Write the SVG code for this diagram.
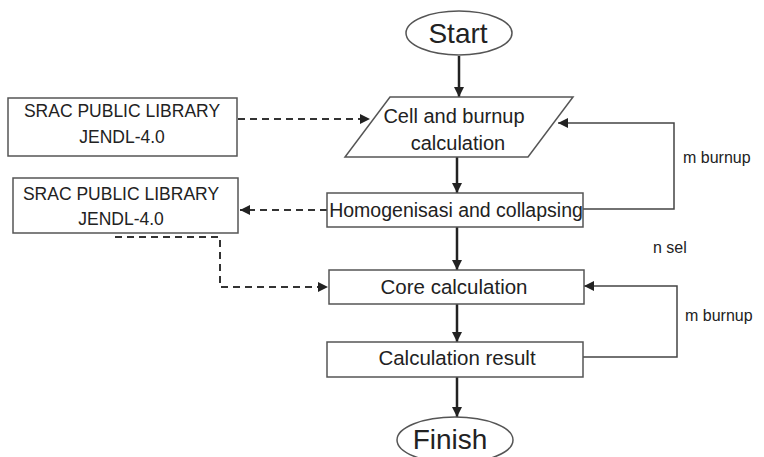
<svg xmlns="http://www.w3.org/2000/svg" width="764" height="457" viewBox="0 0 764 457">
<style>
  .shape{fill:#fff;stroke:#555;stroke-width:1.5}
  .t{font-family:"Liberation Sans",Arial,sans-serif;fill:#222;text-anchor:middle}
  .lbl{font-family:"Liberation Sans",Arial,sans-serif;fill:#222;font-size:16px}
  .flow{fill:none;stroke:#222;stroke-width:2.5}
  .loop{fill:none;stroke:#444;stroke-width:1.5}
  .dash{fill:none;stroke:#333;stroke-width:2;stroke-dasharray:7,5}
</style>
<defs>
  <marker id="ah" viewBox="0 0 10 10" refX="10" refY="5" markerWidth="5" markerHeight="5" orient="auto" markerUnits="userSpaceOnUse">
    <path d="M0,0 L10,5 L0,10 z" fill="#222"/>
  </marker>
  <marker id="ah2" viewBox="0 0 10 10" refX="10" refY="5" markerWidth="12" markerHeight="10" orient="auto" markerUnits="userSpaceOnUse">
    <path d="M0,0 L10,5 L0,10 z" fill="#222"/>
  </marker>
</defs>
<rect width="764" height="457" fill="#fff"/>
<g id="connectors">
  <line class="flow" x1="459" y1="56" x2="459" y2="97" marker-end="url(#ah2)"/>
  <line class="flow" x1="457" y1="157" x2="457" y2="193" marker-end="url(#ah2)"/>
  <line class="flow" x1="457" y1="227" x2="457" y2="270" marker-end="url(#ah2)"/>
  <line class="flow" x1="457" y1="304" x2="457" y2="342" marker-end="url(#ah2)"/>
  <line class="flow" x1="457" y1="377" x2="457" y2="417" marker-end="url(#ah2)"/>
  <path class="loop" d="M583 209 H674 V123 H558" marker-end="url(#ah2)"/>
  <path class="loop" d="M583 357 H677 V286 H584" marker-end="url(#ah2)"/>
  <path class="dash" d="M238 119 H370" marker-end="url(#ah2)"/>
  <path class="dash" d="M327 210 H240" marker-end="url(#ah2)"/>
  <path class="dash" d="M115 237 H220 V287 H328" marker-end="url(#ah2)"/>
</g>
<g id="start">
  <ellipse class="shape" cx="459" cy="33" rx="53" ry="22"/>
  <text class="t" x="458" y="43" font-size="28">Start</text>
</g>
<g id="lib1">
  <rect class="shape" x="8" y="98" width="229" height="58"/>
  <text class="t" x="122" y="117" font-size="17.5">SRAC PUBLIC LIBRARY</text>
  <text class="t" x="122" y="143" font-size="17.5">JENDL-4.0</text>
</g>
<g id="cell">
  <polygon class="shape" points="390,97 573,97 528,157 345,157"/>
  <text class="t" x="454" y="123" font-size="20">Cell and burnup</text>
  <text class="t" x="458" y="150" font-size="20">calculation</text>
</g>
<g id="lib2">
  <rect class="shape" x="13" y="178" width="225" height="55"/>
  <text class="t" x="121" y="200" font-size="17.5">SRAC PUBLIC LIBRARY</text>
  <text class="t" x="121" y="225" font-size="17.5">JENDL-4.0</text>
</g>
<g id="homog">
  <rect class="shape" x="327" y="193" width="256" height="34"/>
  <text class="t" x="456" y="217" font-size="19.5">Homogenisasi and collapsing</text>
</g>
<g id="core">
  <rect class="shape" x="329" y="270" width="255" height="34"/>
  <text class="t" x="454" y="294" font-size="20.5">Core calculation</text>
</g>
<g id="result">
  <rect class="shape" x="327" y="342" width="256" height="35"/>
  <text class="t" x="457" y="365" font-size="20.5">Calculation result</text>
</g>
<g id="finish">
  <ellipse class="shape" cx="455" cy="440" rx="58" ry="23"/>
  <text class="t" x="450" y="449" font-size="28">Finish</text>
</g>
<g id="labels">
  <text class="lbl" x="683" y="163">m burnup</text>
  <text class="lbl" x="653" y="253">n sel</text>
  <text class="lbl" x="685" y="321">m burnup</text>
</g>
</svg>
